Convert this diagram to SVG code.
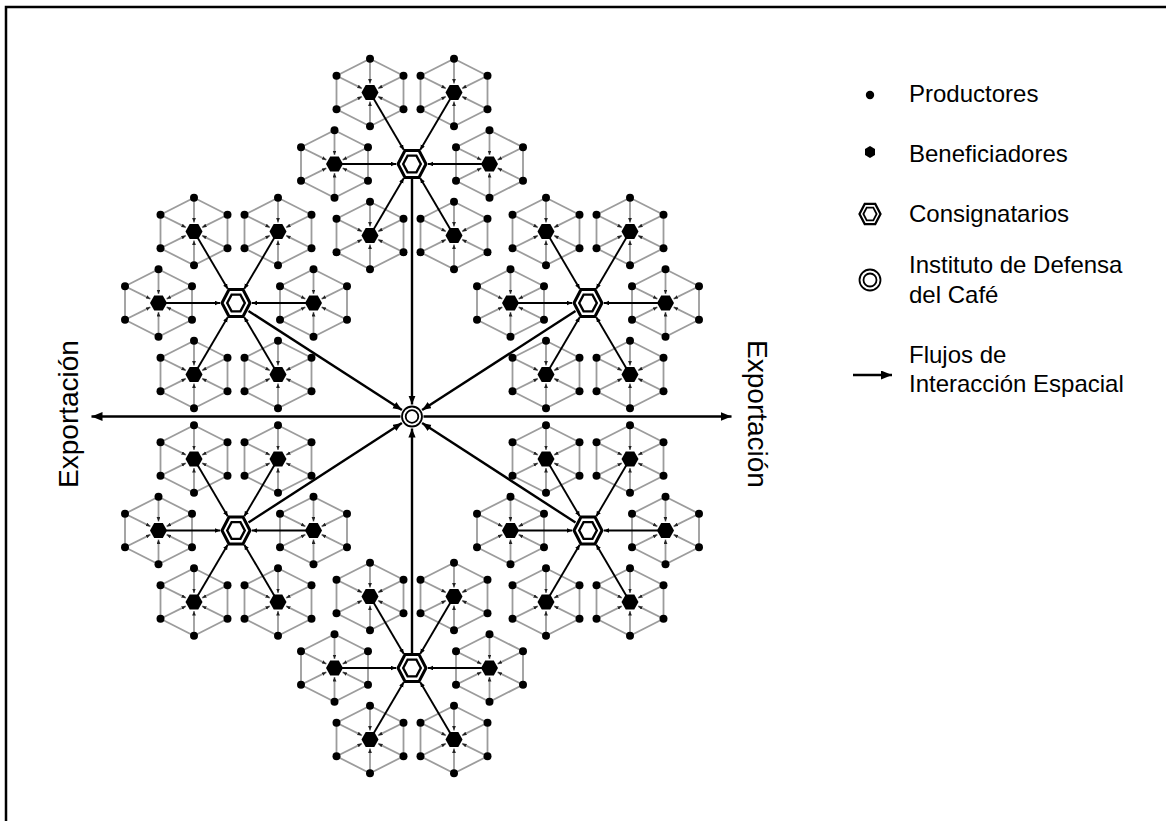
<svg xmlns="http://www.w3.org/2000/svg" xmlns:xlink="http://www.w3.org/1999/xlink" width="1166" height="821" viewBox="0 0 1166 821">
  <style>
    .frame{fill:none;stroke:#000;stroke-width:2.5}
    .pe{fill:none;stroke:#9c9c9c;stroke-width:1.8}
    .ps line{stroke:#9c9c9c;stroke-width:1.8;marker-end:url(#mt)}
    .prod{fill:#000}
    .ben{fill:#000}
    .cons-o{fill:#fff;stroke:#000;stroke-width:3}
    .cons-i{fill:none;stroke:#000;stroke-width:2.4}
    .idc{fill:#fff;stroke:#000;stroke-width:1.8}
    .bspk line{stroke:#000;stroke-width:1.9;marker-end:url(#ms)}
    .main{stroke:#000;stroke-width:2.4;marker-end:url(#mm)}
    .exp{stroke:#000;stroke-width:2.4;marker-end:url(#mb)}
    text{font-family:"Liberation Sans",Arial,sans-serif;fill:#000}
    .lg{font-size:24px}
    .ex{font-size:28px}
  </style>
  <defs>
    <marker id="mt" markerUnits="userSpaceOnUse" markerWidth="5" markerHeight="4" refX="4.5" refY="1.9" orient="auto">
      <path d="M0,0 L4.5,1.9 L0,3.8 z" fill="#222"/>
    </marker>
    <marker id="ms" markerUnits="userSpaceOnUse" markerWidth="6" markerHeight="5" refX="5" refY="2.3" orient="auto">
      <path d="M0,0 L5,2.3 L0,4.6 z" fill="#000"/>
    </marker>
    <marker id="mm" markerUnits="userSpaceOnUse" markerWidth="10" markerHeight="8" refX="9" refY="3.6" orient="auto">
      <path d="M0,0 L9,3.6 L0,7.2 z" fill="#000"/>
    </marker>
    <marker id="mb" markerUnits="userSpaceOnUse" markerWidth="12" markerHeight="10" refX="11" refY="4.5" orient="auto">
      <path d="M0,0 L11,4.5 L0,9 z" fill="#000"/>
    </marker>

    <!-- beneficiador with its ring of six productores -->
    <g id="bc">
      <polygon class="pe" points="0,-33.7 33.5,-16.8 33.5,16.8 0,33.7 -33.5,16.8 -33.5,-16.8"/>
      <g class="ps">
        <line x1="0" y1="-33.7" x2="0" y2="-9"/>
        <line x1="33.5" y1="-16.8" x2="8.1" y2="-4.1"/>
        <line x1="33.5" y1="16.8" x2="8.1" y2="4.1"/>
        <line x1="0" y1="33.7" x2="0" y2="9"/>
        <line x1="-33.5" y1="16.8" x2="-8.1" y2="4.1"/>
        <line x1="-33.5" y1="-16.8" x2="-8.1" y2="-4.1"/>
      </g>
      <polygon class="ben" points="-8.5,0 -4.3,-7.6 4.3,-7.6 8.5,0 4.3,7.6 -4.3,7.6"/>
      <circle class="prod" cx="0" cy="-33.7" r="4"/>
      <circle class="prod" cx="33.5" cy="-16.8" r="4"/>
      <circle class="prod" cx="33.5" cy="16.8" r="4"/>
      <circle class="prod" cx="0" cy="33.7" r="4"/>
      <circle class="prod" cx="-33.5" cy="16.8" r="4"/>
      <circle class="prod" cx="-33.5" cy="-16.8" r="4"/>
    </g>

    <!-- consignatario symbol -->
    <g id="cons">
      <polygon class="cons-o" points="-14,0 -7,-13.5 7,-13.5 14,0 7,13.5 -7,13.5"/>
      <polygon class="cons-i" points="-8.8,0 -4.4,-8.4 4.4,-8.4 8.8,0 4.4,8.4 -4.4,8.4"/>
    </g>

    <!-- six beneficiadores around one consignatario -->
    <g id="ring">
      <use xlink:href="#bc" x="-42" y="-71.5"/>
      <use xlink:href="#bc" x="42" y="-71.5"/>
      <use xlink:href="#bc" x="-77.5" y="0"/>
      <use xlink:href="#bc" x="77.5" y="0"/>
      <use xlink:href="#bc" x="-42" y="71.5"/>
      <use xlink:href="#bc" x="42" y="71.5"/>
    </g>

    <!-- flows from the six beneficiadores into a consignatario -->
    <g id="bspk" class="bspk">
      <line x1="-42" y1="-71.5" x2="-8.3" y2="-14.2"/>
      <line x1="42" y1="-71.5" x2="8.3" y2="-14.2"/>
      <line x1="-77.5" y1="0" x2="-16" y2="0"/>
      <line x1="77.5" y1="0" x2="16" y2="0"/>
      <line x1="-42" y1="71.5" x2="-8.3" y2="14.2"/>
      <line x1="42" y1="71.5" x2="8.3" y2="14.2"/>
    </g>
  </defs>

  <rect width="1166" height="821" fill="#fff"/>
  <path class="frame" d="M6,830 V7 H1175"/>

  <!-- consignatario clusters -->
  <g id="cluster-top" transform="translate(412,164)"><use xlink:href="#ring"/></g>
  <g id="cluster-upper-left" transform="translate(236,303)"><use xlink:href="#ring"/></g>
  <g id="cluster-upper-right" transform="translate(588,303)"><use xlink:href="#ring"/></g>
  <g id="cluster-lower-left" transform="translate(236,530.5)"><use xlink:href="#ring"/></g>
  <g id="cluster-lower-right" transform="translate(588,530.5)"><use xlink:href="#ring"/></g>
  <g id="cluster-bottom" transform="translate(412,668)"><use xlink:href="#ring"/></g>

  <!-- connectors -->
  <g id="connectors">
    <use xlink:href="#bspk" transform="translate(412,164)"/>
    <use xlink:href="#bspk" transform="translate(236,303)"/>
    <use xlink:href="#bspk" transform="translate(588,303)"/>
    <use xlink:href="#bspk" transform="translate(236,530.5)"/>
    <use xlink:href="#bspk" transform="translate(588,530.5)"/>
    <use xlink:href="#bspk" transform="translate(412,668)"/>

    <line class="main" x1="412" y1="179" x2="412" y2="404.5"/>
    <line class="main" x1="412" y1="653" x2="412" y2="428.5"/>
    <line class="main" x1="248.5" y1="311" x2="401.9" y2="410"/>
    <line class="main" x1="575.5" y1="311" x2="422.1" y2="410"/>
    <line class="main" x1="248.5" y1="522.5" x2="401.9" y2="423"/>
    <line class="main" x1="575.5" y1="522.5" x2="422.1" y2="423"/>

    <line class="exp" x1="400.5" y1="416.5" x2="91.5" y2="416.5"/>
    <line class="exp" x1="423.5" y1="416.5" x2="731.5" y2="416.5"/>
  </g>

  <!-- consignatario nodes -->
  <g id="cons-top"><use xlink:href="#cons" x="412" y="164"/></g>
  <g id="cons-upper-left"><use xlink:href="#cons" x="236" y="303"/></g>
  <g id="cons-upper-right"><use xlink:href="#cons" x="588" y="303"/></g>
  <g id="cons-lower-left"><use xlink:href="#cons" x="236" y="530.5"/></g>
  <g id="cons-lower-right"><use xlink:href="#cons" x="588" y="530.5"/></g>
  <g id="cons-bottom"><use xlink:href="#cons" x="412" y="668"/></g>

  <!-- Instituto de Defensa del Café -->
  <g id="idc">
    <circle class="idc" cx="412" cy="416.5" r="10"/>
    <circle class="idc" cx="412" cy="416.5" r="6.3"/>
  </g>

  <!-- export labels -->
  <g id="export-left">
    <text class="ex" transform="translate(78,414) rotate(-90)" text-anchor="middle">Exportación</text>
  </g>
  <g id="export-right">
    <text class="ex" transform="translate(748,414) rotate(90)" text-anchor="middle">Exportación</text>
  </g>

  <!-- legend -->
  <g id="legend">
    <circle class="prod" cx="870" cy="95" r="4.2"/>
    <text class="lg" x="909" y="102">Productores</text>

    <polygon class="ben" points="870,146 875,149 875,155 870,158 865,155 865,149"/>
    <text class="lg" x="909" y="162">Beneficiadores</text>

    <g transform="translate(870,214) scale(0.75)">
      <polygon class="cons-o" points="-14,0 -7,-13.5 7,-13.5 14,0 7,13.5 -7,13.5"/>
      <polygon class="cons-i" points="-8.8,0 -4.4,-8.4 4.4,-8.4 8.8,0 4.4,8.4 -4.4,8.4"/>
    </g>
    <text class="lg" x="909" y="222">Consignatarios</text>

    <circle class="idc" cx="870" cy="280" r="10.5"/>
    <circle class="idc" cx="870" cy="280" r="6.5"/>
    <text class="lg" x="909" y="273">Instituto de Defensa</text>
    <text class="lg" x="909" y="303">del Café</text>

    <line class="exp" x1="853" y1="375" x2="892" y2="375"/>
    <text class="lg" x="909" y="363">Flujos de</text>
    <text class="lg" x="909" y="392">Interacción Espacial</text>
  </g>
</svg>
